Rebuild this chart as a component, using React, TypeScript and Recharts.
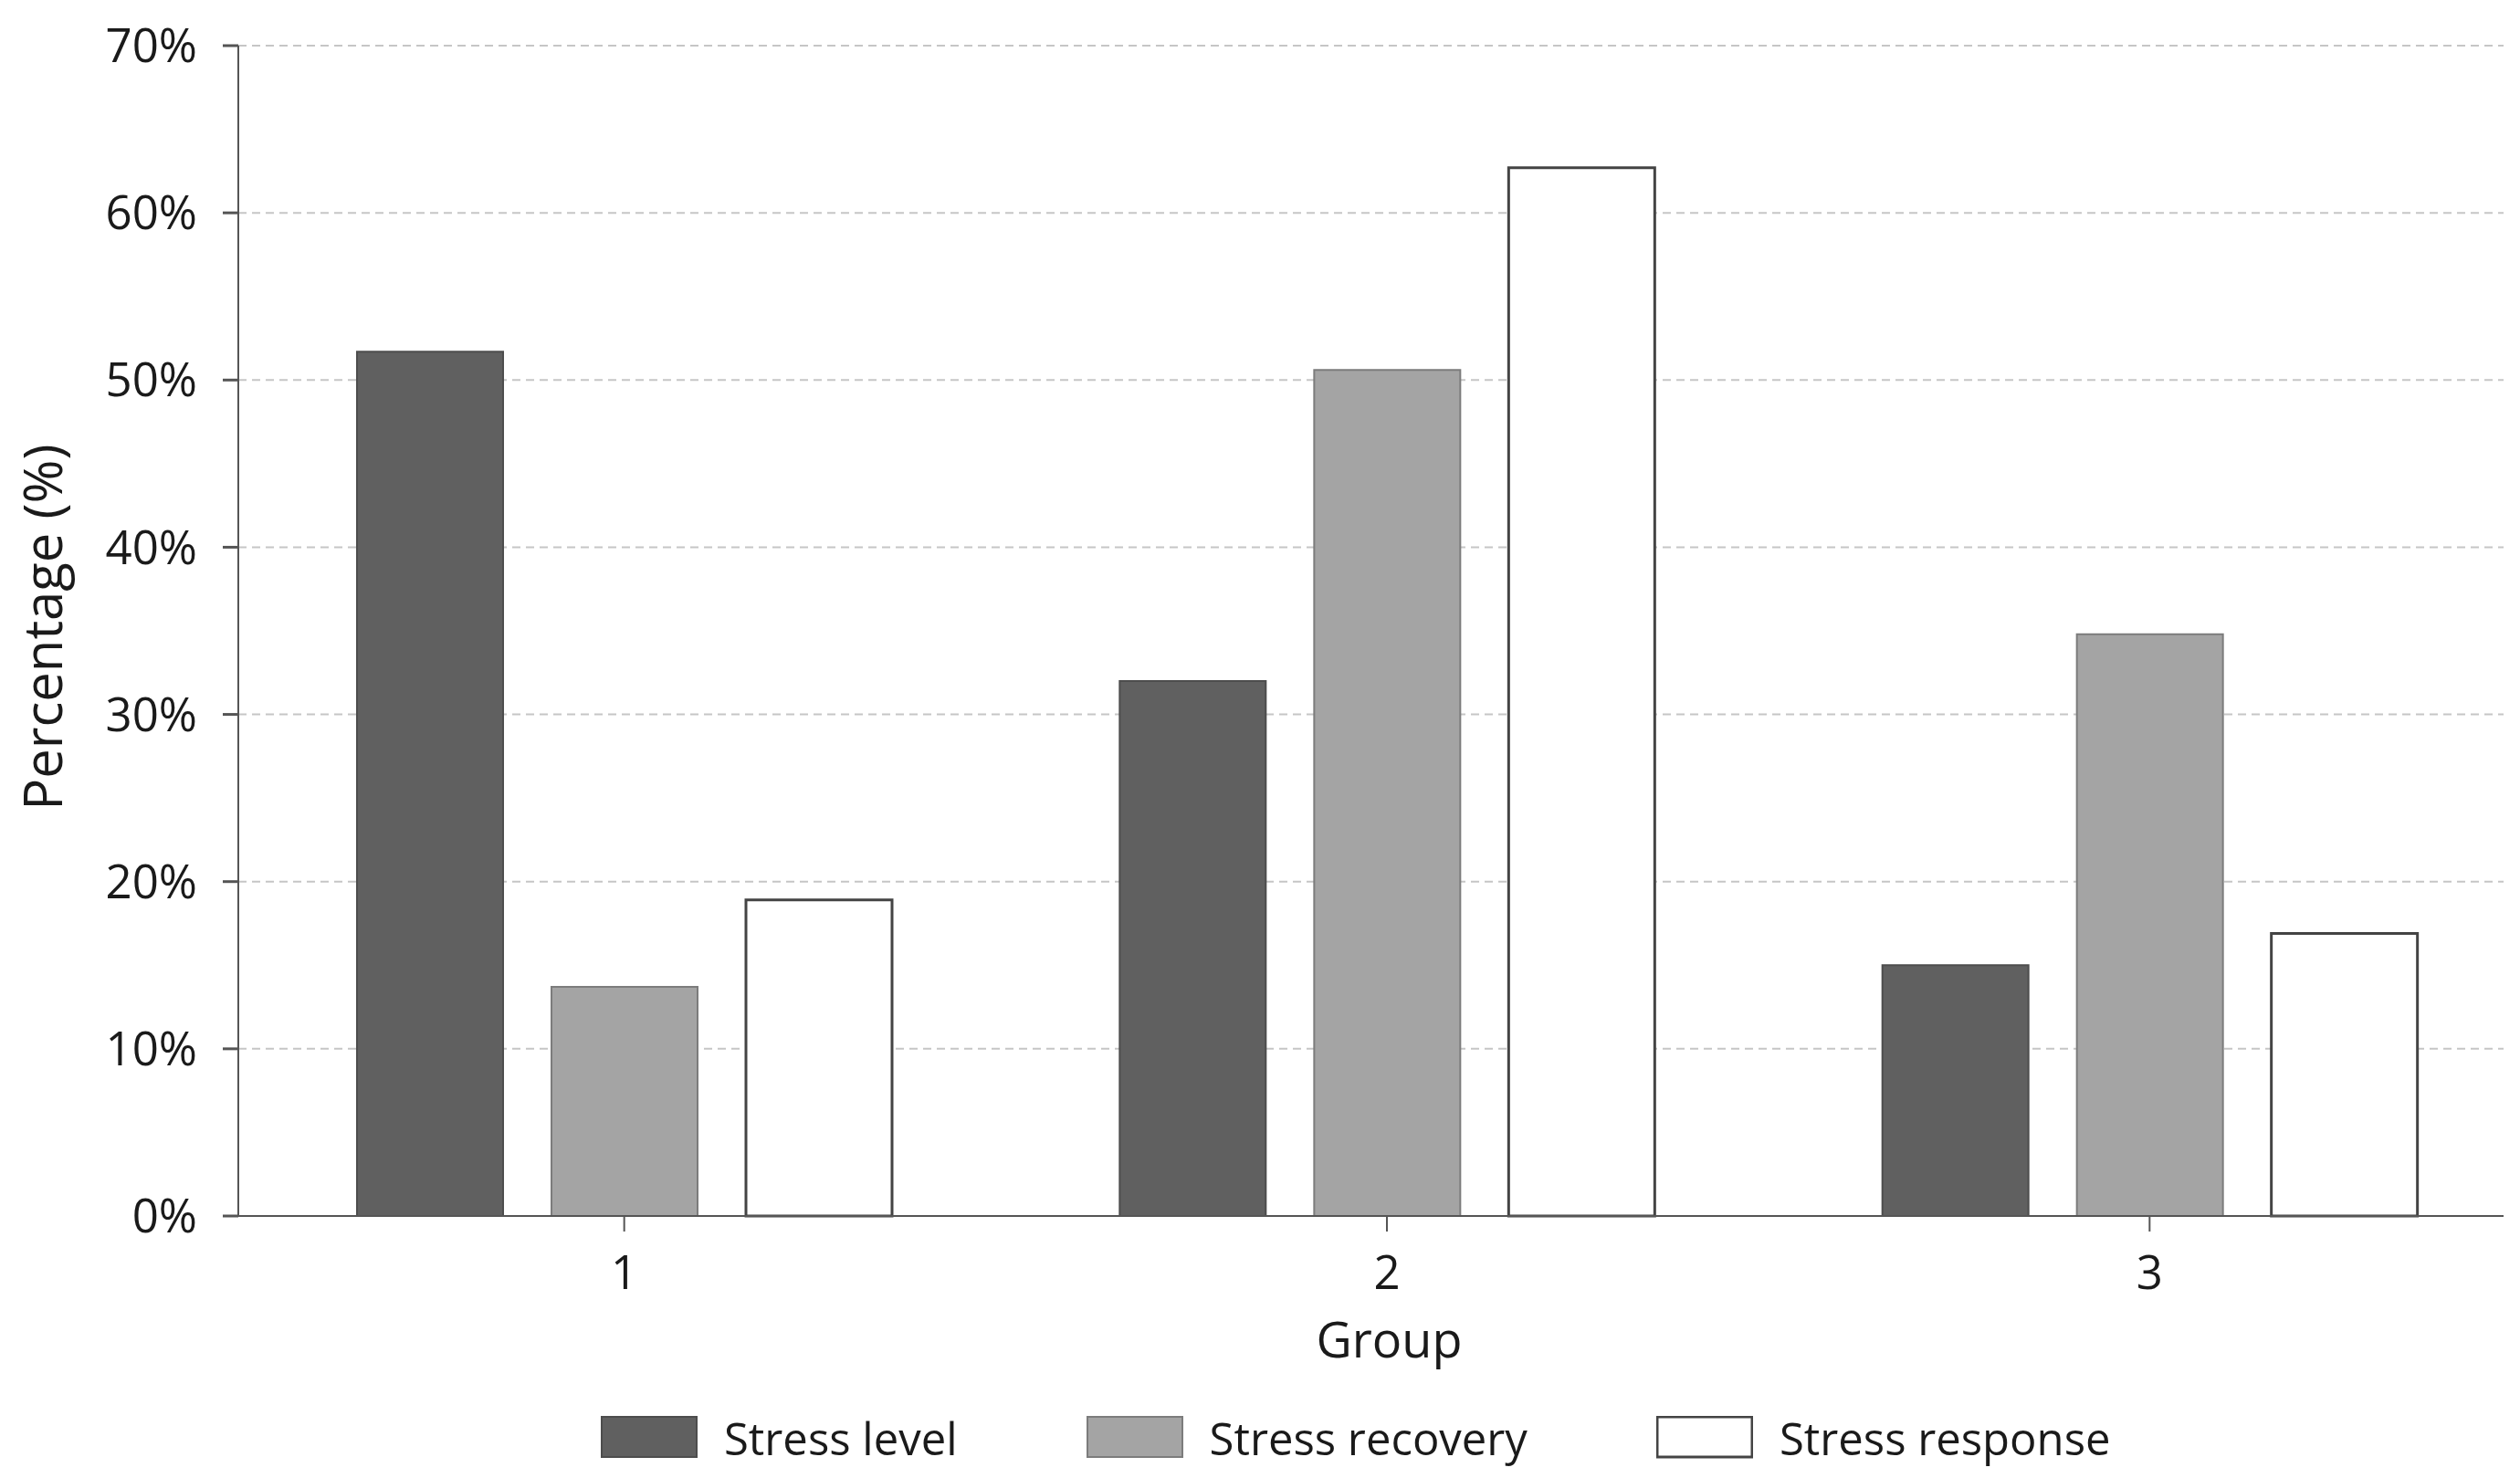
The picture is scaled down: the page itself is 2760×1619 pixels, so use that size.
import React from 'react';
import { BarChart, Bar, XAxis, YAxis, CartesianGrid, Legend } from 'recharts';

// groups on the x axis
const groups = ['1', '2', '3'];

// percentages
const stressLevel = [51.7, 32.0, 15.0];
const stressRecovery = [13.7, 50.6, 34.8];
const stressResponse = [18.9, 62.7, 16.9];

const yTicks = [0, 10, 20, 30, 40, 50, 60, 70];

const series = [
  { key: 'level', name: 'Stress level', fill: '#606060', stroke: '#4d4d4d', strokeWidth: 2 },
  { key: 'recovery', name: 'Stress recovery', fill: '#a4a4a4', stroke: '#7c7c7c', strokeWidth: 2 },
  { key: 'response', name: 'Stress response', fill: '#ffffff', stroke: '#444444', strokeWidth: 3 },
];

const data = groups.map((g, i) => ({
  group: g,
  level: stressLevel[i],
  recovery: stressRecovery[i],
  response: stressResponse[i],
}));

const FONT = '"Open Sans", "Noto Sans", sans-serif';
const TEXT = '#1a1a1a';
const AXIS = '#555555';

function LegendContent() {
  return (
    <div
      style={{
        display: 'flex',
        alignItems: 'center',
        paddingLeft: 658,
        paddingTop: 39,
        fontFamily: FONT,
        fontSize: 49,
        color: TEXT,
      }}
    >
      {series.map((s) => (
        <div key={s.key} style={{ display: 'flex', alignItems: 'center', marginRight: 141 }}>
          <svg width={106} height={48} style={{ marginRight: 29 }}>
            <rect x={1} y={1} width={104} height={44} fill={s.fill} stroke={s.stroke} strokeWidth={s.strokeWidth} />
          </svg>
          <span style={{ lineHeight: '48px', whiteSpace: 'nowrap' }}>{s.name}</span>
        </div>
      ))}
    </div>
  );
}

export default function App() {
  return (
    <div style={{ width: 2760, height: 1619, background: '#fff' }}>
      <style>{'body{margin:0;background:#fff}'}</style>
      <BarChart
        width={2760}
        height={1619}
        data={data}
        margin={{ top: 50, right: 18, left: 0, bottom: 0 }}
        barCategoryGap={125}
        barGap={53}
      >
        <CartesianGrid vertical={false} stroke="#c6c6c6" strokeWidth={2} strokeDasharray="9 6" />
        <XAxis
          dataKey="group"
          height={180}
          padding={{ left: 5, right: -30 }}
          stroke={AXIS}
          axisLine={{ stroke: AXIS, strokeWidth: 2 }}
          tickLine={{ stroke: AXIS, strokeWidth: 2 }}
          tickSize={17}
          tickMargin={27}
          tick={{ fontSize: 51, fill: TEXT, fontFamily: FONT }}
          label={({ viewBox }: any) => (
            <text
              x={viewBox.x + viewBox.width / 2 + 20}
              y={1487}
              textAnchor="middle"
              fontSize={54}
              fontFamily={FONT}
              fill={TEXT}
            >
              Group
            </text>
          )}
        />
        <YAxis
          width={261}
          domain={[0, 70]}
          ticks={yTicks}
          interval={0}
          stroke={AXIS}
          axisLine={{ stroke: AXIS, strokeWidth: 2 }}
          tickLine={{ stroke: AXIS, strokeWidth: 3 }}
          tickSize={17}
          tickMargin={28}
          tickFormatter={(v: number) => `${v}%`}
          tick={{ fontSize: 51, fill: TEXT, fontFamily: FONT }}
          label={({ viewBox }: any) => {
            const cx = 68;
            const cy = viewBox.y + viewBox.height / 2 - 4;
            return (
              <text
                x={cx}
                y={cy}
                transform={`rotate(-90, ${cx}, ${cy})`}
                textAnchor="middle"
                fontSize={58}
                fontFamily={FONT}
                fill={TEXT}
              >
                Percentage (%)
              </text>
            );
          }}
        />
        <Legend verticalAlign="bottom" height={107} wrapperStyle={{ left: 0, width: 2760 }} content={<LegendContent />} />
        {series.map((s) => (
          <Bar
            key={s.key}
            dataKey={s.key}
            name={s.name}
            fill={s.fill}
            stroke={s.stroke}
            strokeWidth={s.strokeWidth}
            isAnimationActive={false}
          />
        ))}
      </BarChart>
    </div>
  );
}
